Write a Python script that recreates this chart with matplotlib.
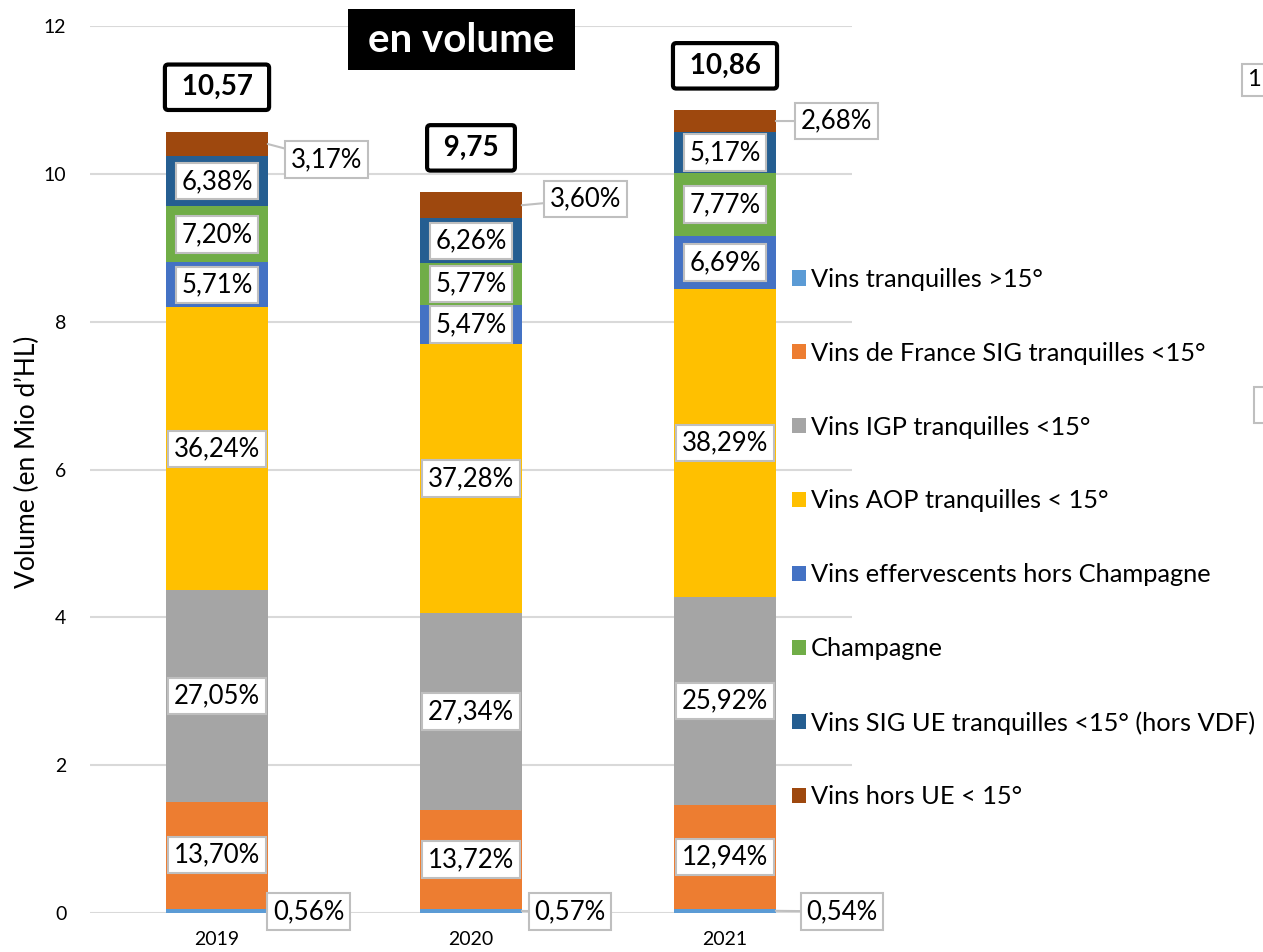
import matplotlib
matplotlib.use('Agg')
import matplotlib.pyplot as plt
from matplotlib.patches import Patch, Rectangle
import numpy as np

years = ['2019', '2020', '2021']
totals = [10.57, 9.75, 10.86]
categories = [
    'Vins tranquilles >15°',
    'Vins de France SIG tranquilles <15°',
    'Vins IGP tranquilles <15°',
    'Vins AOP tranquilles < 15°',
    'Vins effervescents hors Champagne',
    'Champagne',
    'Vins SIG UE tranquilles <15° (hors VDF)',
    'Vins hors UE < 15°',
]
pct_tranq_15 = [0.56, 0.57, 0.54]
pct_vdf = [13.70, 13.72, 12.94]
pct_igp = [27.05, 27.34, 25.92]
pct_aop = [36.24, 37.28, 38.29]
pct_efferv = [5.71, 5.47, 6.69]
pct_champ = [7.20, 5.77, 7.77]
pct_sig_ue = [6.38, 6.26, 5.17]
pct_hors_ue = [3.17, 3.60, 2.68]
series = [pct_tranq_15, pct_vdf, pct_igp, pct_aop, pct_efferv, pct_champ, pct_sig_ue, pct_hors_ue]
colors = ['#5B9BD5', '#ED7D31', '#A5A5A5', '#FFC000', '#4472C4', '#70AD47', '#255E91', '#9E480E']

plt.rcParams['font.family'] = ['Lato', 'DejaVu Sans']

W, H = 1263, 952
fig = plt.figure(figsize=(W / 100, H / 100), dpi=100)
ax = fig.add_axes([90 / W, 1 - 913 / H, (852 - 90) / W, (913 - 26) / H])
ax.set_xlim(-0.5, 2.5)
ax.set_ylim(0, 12)

x = np.arange(len(years))
bw = 0.4
bottom = np.zeros(len(years))
tot = np.array(totals)

fmt = lambda v: f"{v:.2f}".replace('.', ',')

LFS = 18.5
label_box = dict(boxstyle='square,pad=0.22', fc='white', ec='#BFBFBF', lw=1.5)
# callout offsets (layout only): bottom and top series
callout_dx_bottom = [0.36, 0.39, 0.46]
callout_dx_top = [0.43, 0.45, 0.44]
callout_dy_top = [-0.21, 0.08, 0.0]

for k, (cat, pcts, col) in enumerate(zip(categories, series, colors)):
    p = np.array(pcts)
    vals = tot * p / 100
    ax.bar(x, vals, bw, bottom=bottom, color=col, zorder=2, label=cat)
    centers = bottom + vals / 2
    for i in range(len(years)):
        txt = fmt(p[i]) + '%'
        if k == 0:
            ax.annotate(txt, xy=(x[i] + bw / 2, vals[i] / 2),
                        xytext=(x[i] + callout_dx_bottom[i], 0.02),
                        ha='center', va='center', fontsize=LFS, bbox=label_box, zorder=5,
                        arrowprops=dict(arrowstyle='-', color='#BFBFBF', lw=1.5,
                                        shrinkA=0, shrinkB=0))
        elif k == len(categories) - 1:
            ax.annotate(txt, xy=(x[i] + bw / 2, centers[i]),
                        xytext=(x[i] + callout_dx_top[i], centers[i] + callout_dy_top[i]),
                        ha='center', va='center', fontsize=LFS, bbox=label_box, zorder=5,
                        arrowprops=dict(arrowstyle='-', color='#BFBFBF', lw=1.5,
                                        shrinkA=0, shrinkB=0))
        else:
            ax.text(x[i], centers[i], txt, ha='center', va='center', fontsize=LFS,
                    bbox=label_box, zorder=5)
    bottom = bottom + vals

# totals
for i in range(len(years)):
    ax.annotate(' ' + fmt(totals[i]) + ' ', xy=(x[i], totals[i]), xytext=(0, 32),
                textcoords='offset points', ha='center', va='center',
                fontsize=20, fontweight='bold',
                bbox=dict(boxstyle='round,pad=0.35,rounding_size=0.12', fc='white',
                          ec='black', lw=3), zorder=6)

ax.set_xticks(x)
ax.set_xticklabels(years, fontsize=14)
ax.set_yticks(np.arange(0, 13, 2))
ax.set_yticklabels([str(v) for v in range(0, 13, 2)], fontsize=14)
ax.tick_params(axis='both', length=0, colors='black')
ax.tick_params(axis='y', pad=17)
ax.tick_params(axis='x', pad=13)
for s in ax.spines.values():
    s.set_visible(False)
ax.yaxis.grid(True, color='#D9D9D9', lw=1.5, zorder=0)
ax.set_axisbelow(True)

ax.set_ylabel('Volume (en Mio d’HL)', fontsize=19)
ax.yaxis.set_label_coords((40 - 90) / (852 - 90), (913 - 462) / (913 - 26))

# title box
fig.patches.append(Rectangle((348 / W, 1 - 70 / H), 227 / W, 61 / H,
                             transform=fig.transFigure, fc='black', ec='none', zorder=1))
fig.text(461 / W, 1 - 40 / H, 'en volume', ha='center', va='center', fontsize=29,
         fontweight='bold', color='white', zorder=2)

# legend
handles = [Patch(facecolor=c, edgecolor='none') for c in colors]
fig.legend(handles, categories, loc='upper left',
           bbox_to_anchor=(792 / W, 1 - 268 / H), frameon=False, fontsize=18.3,
           handlelength=0.55, handleheight=0.55, handletextpad=0.2,
           labelspacing=2.0, borderpad=0, borderaxespad=0)

# partially visible boxes at right edge (cropped neighbouring chart)
fig.text(1247 / W, 1 - 80 / H, '1', ha='left', va='center', fontsize=17,
         bbox=dict(boxstyle='square,pad=0.22', fc='white', ec='#BFBFBF', lw=1.5))
fig.text(1260 / W, 1 - 405 / H, '   ', ha='left', va='center', fontsize=LFS,
         bbox=dict(boxstyle='square,pad=0.22', fc='white', ec='#BFBFBF', lw=1.5))

fig.savefig('out.png', dpi=100)
